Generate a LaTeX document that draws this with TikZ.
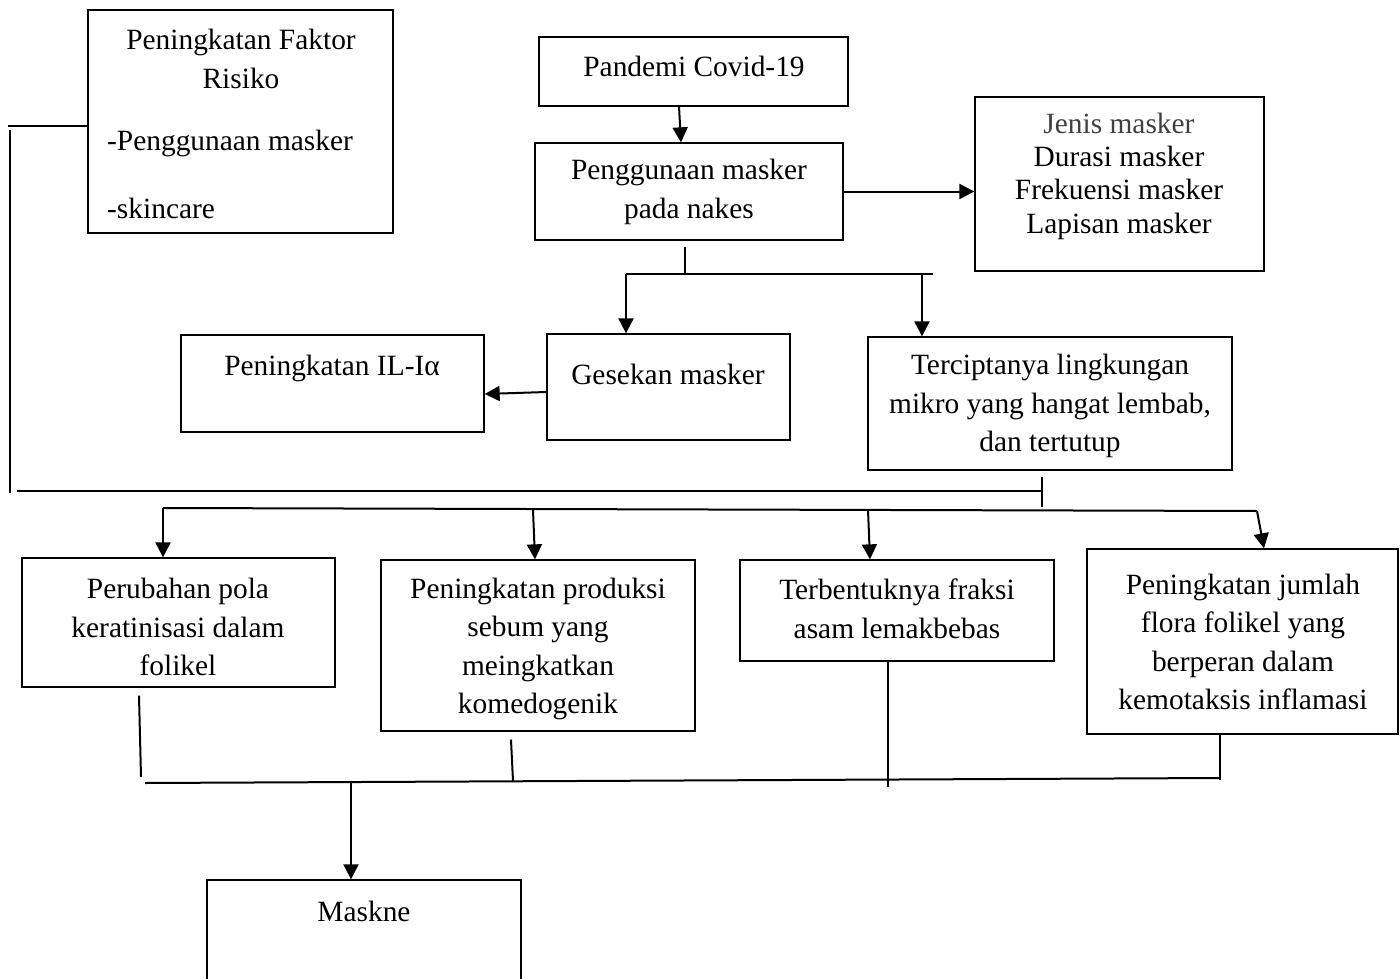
\documentclass[tikz,border=0pt]{standalone}
\usepackage{fontspec}
\setmainfont{Liberation Serif}
\usetikzlibrary{arrows.meta,fit}
\tikzset{
  box/.style={draw, line width=1.3pt, inner sep=0pt},
  txt/.style={inner sep=0pt, align=center, font=\fontsize{29.4}{38.5}\selectfont},
  ln/.style={line width=2pt},
  arr/.style={line width=2pt, -{Triangle[width=15pt,length=15pt]}},
}
\begin{document}
\begin{tikzpicture}[x=1pt,y=-1pt]
\useasboundingbox (0,0) rectangle (1400,979);
% boxes
\node[box, fit={(88,10)(393,233)}] (faktor) {};
\node[box, fit={(539,37)(848,106)}] (pandemi) {};
\node[box, fit={(535,143)(843,240)}] (peng) {};
\node[box, fit={(975,97)(1264,271)}] (jenis) {};
\node[box, fit={(181,335)(484,432)}] (il) {};
\node[box, fit={(547,334)(790,440)}] (gesek) {};
\node[box, fit={(868,337)(1232,470)}] (tercip) {};
\node[box, fit={(22,558)(335,687)}] (perub) {};
\node[box, fit={(381,560)(695,731)}] (produksi) {};
\node[box, fit={(740,560)(1054,661)}] (terbent) {};
\node[box, fit={(1087,549)(1398,734)}] (jumlah) {};
\node[box, fit={(207,880)(521,1000)}] (maskne) {};
% texts
\node[txt] (tfaktor) at (241,59) {Peningkatan Faktor\\Risiko};
\node[txt, anchor=west] (tf1) at (107,143) {-Penggunaan masker};
\node[txt, anchor=west] (tf2) at (107,208) {-skincare};
\node[txt] (tpandemi) at (694,66) {Pandemi Covid-19};
\node[txt] (tpeng) at (689,192) {Penggunaan masker\\pada nakes};
\node[txt, font=\fontsize{29.4}{33.3}\selectfont] (tjenis) at (1119,176) {\textcolor{black!75}{Jenis masker}\\Durasi masker\\Frekuensi masker\\Lapisan masker};
\node[txt] (til) at (332,368) {Peningkatan IL-Iα};
\node[txt] (tgesek) at (668,374) {Gesekan masker};
\node[txt] (ttercip) at (1050,406) {Terciptanya lingkungan\\mikro yang hangat lembab,\\dan tertutup};
\node[txt] (tperub) at (178,627) {Perubahan pola\\keratinisasi dalam\\folikel};
\node[txt] (tproduksi) at (538,649) {Peningkatan produksi\\sebum yang\\meingkatkan\\komedogenik};
\node[txt] (tterbent) at (897,609) {Terbentuknya fraksi\\asam lemakbebas};
\node[txt] (tjumlah) at (1243,642) {Peningkatan jumlah\\flora folikel yang\\berperan dalam\\kemotaksis inflamasi};
\node[txt] (tmaskne) at (364,911) {Maskne};
% connector coordinates
\coordinate (f1) at (8,126);
\coordinate (v1) at (10,130);
\coordinate (v2) at (10,493);
\coordinate (h1a) at (17,491);
\coordinate (h1b) at (1042,491);
\coordinate (tk1) at (1042,477);
\coordinate (tk2) at (1042,507);
\coordinate (s1) at (685,274);
\coordinate (s1L) at (626,274);
\coordinate (s1R) at (933,274);
\coordinate (s1b) at (922,274);
\coordinate (h2a) at (163,508);
\coordinate (h2b) at (1257,511);
\coordinate (d2) at (533,510);
\coordinate (d3) at (868,510);
\coordinate (b1) at (141,777);
\coordinate (b2) at (513,781);
\coordinate (b3) at (888,787);
\coordinate (b4) at (1220,780);
\coordinate (h3a) at (145,783);
\coordinate (h3b) at (1220,778);
\coordinate (m1) at (351,783);
% connectors
\draw[arr] (pandemi.south -| 679,0) -- (peng.north -| 681,0);
\draw[arr] (peng.east) -- (peng.east -| jenis.west);
\draw[ln] ([yshift=-6pt]peng.south -| s1) -- (s1);
\draw[ln] (s1L) -- (s1R);
\draw[arr] (s1L) -- (s1L |- gesek.north);
\draw[arr] (s1b) -- (s1b |- tercip.north);
\draw[arr] (gesek.west |- 0,392) -- (il.east |- 0,394);
\draw[ln] (faktor.west |- f1) -- (f1);
\draw[ln] (v1) -- (v2);
\draw[ln] (h1a) -- (h1b);
\draw[ln] (tk1) -- (tk2);
\draw[ln] (h2a) -- (h2b);
\draw[arr] (h2a) -- (h2a |- perub.north);
\draw[arr] (d2) -- (produksi.north -| 535,0);
\draw[arr] (d3) -- (terbent.north -| 870,0);
\draw[arr] (h2b) -- (jumlah.north -| 1264,0);
\draw[ln] ([yshift=-8pt]perub.south -| 139,0) -- (b1);
\draw[ln] ([yshift=-8pt]produksi.south -| 511,0) -- (b2);
\draw[ln] (terbent.south -| b3) -- (b3);
\draw[ln] (jumlah.south -| b4) -- (b4);
\draw[ln] (h3a) -- (h3b);
\draw[arr] (m1) -- (m1 |- maskne.north);
\end{tikzpicture}
\end{document}
